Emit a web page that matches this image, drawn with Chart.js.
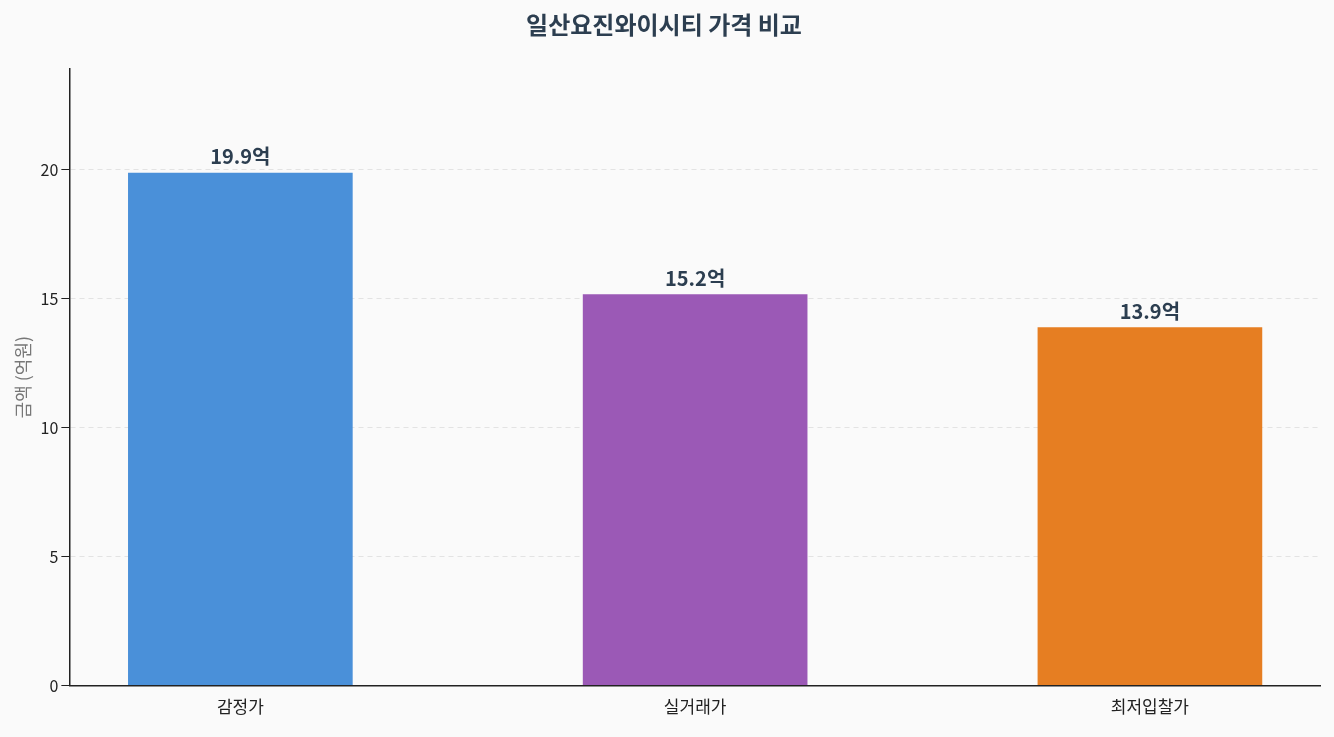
<!DOCTYPE html>
<html><head><meta charset="utf-8">
<script src="https://cdn.jsdelivr.net/npm/chart.js@4"></script>
<style>html,body{margin:0;background:#fafafa;}#w{width:1334px;height:737px;}</style>
</head><body><div id="w"><canvas id="c"></canvas></div>
<script>
const categories = ["감정가", "실거래가", "최저입찰가"];
const values = [19.87, 15.16, 13.89];
const valueLabels = ["19.9억", "15.2억", "13.9억"];
const colors = ["#4a90d9", "#9b59b6", "#e67e22"];
const F = "'Noto Sans CJK KR','Noto Sans',sans-serif";
const labelPlugin = {
  id: 'lbl',
  afterDatasetsDraw(chart) {
    const ctx = chart.ctx;
    const meta = chart.getDatasetMeta(0);
    ctx.save();
    ctx.font = "bold 20px " + F;
    ctx.fillStyle = "#2c3e50";
    ctx.textAlign = "center";
    ctx.textBaseline = "bottom";
    meta.data.forEach((b, i) => ctx.fillText(valueLabels[i], b.x, b.y - 6));
    ctx.restore();
  }
};
new Chart(document.getElementById('c'), {
  type: 'bar',
  data: { datasets: [{ data: values.map((v, i) => ({ x: i, y: v })), backgroundColor: colors, barPercentage: 0.494, categoryPercentage: 1 }] },
  options: {
    responsive: true, maintainAspectRatio: false, animation: false,
    layout: { padding: { left: 8, right: 14, top: 4, bottom: 17 } },
    plugins: {
      legend: { display: false }, tooltip: { enabled: false },
      title: { display: true, text: "일산요진와이시티 가격 비교", color: "#2c3e50", font: { family: F, size: 24, weight: 'bold' }, padding: { top: 6, bottom: 30 } }
    },
    scales: {
      x: { type: 'linear', min: -0.376, max: 2.374, offset: false,
        afterBuildTicks: s => { s.ticks = categories.map((c, i) => ({ value: i })); },
        grid: { display: false }, border: { color: "#222", width: 1.5 },
        ticks: { color: "#222", font: { family: F, size: 17 }, callback: v => categories[v] } },
      y: { min: 0, max: 23.9, grid: { color: "#e3e3e3", tickColor: "#222" }, border: { color: "#222", width: 1.5, dash: [5, 4] },
        afterBuildTicks: s => { s.ticks = [0, 5, 10, 15, 20].map(v => ({ value: v })); },
        ticks: { color: "#222", font: { family: F, size: 16 } },
        title: { display: true, text: "금액 (억원)", color: "#777", font: { family: F, size: 18 } } }
    }
  },
  plugins: [labelPlugin]
});
</script></body></html>
